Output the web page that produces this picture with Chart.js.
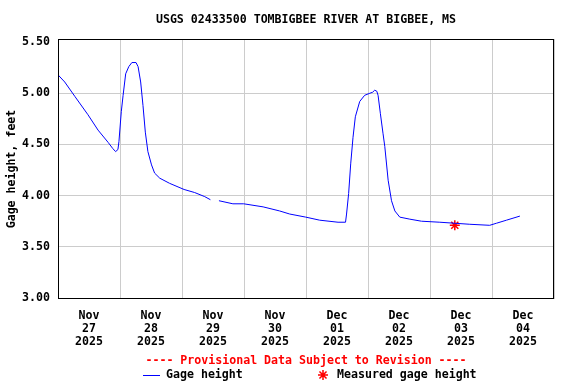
<!DOCTYPE html>
<html>
<head>
<meta charset="utf-8">
<script src="https://cdn.jsdelivr.net/npm/chart.js@4"></script>
<style>
html,body{margin:0;padding:0;background:#ffffff;}
canvas{display:block;}
</style>
</head>
<body>
<canvas id="c" width="576" height="384"></canvas>
<script>
// ---- data (hours since 2025-11-27 00:00 local) ----
const titleText = 'USGS 02433500 TOMBIGBEE RIVER AT BIGBEE, MS';
const yAxisTitle = 'Gage height, feet';
const provisionalText = '---- Provisional Data Subject to Revision ----';
const seriesName = 'Gage height';
const measuredName = 'Measured gage height';

const tickMonths = ['Nov','Nov','Nov','Nov','Dec','Dec','Dec','Dec'];
const tickDays   = ['27','28','29','30','01','02','03','04'];
const tickYears  = ['2025','2025','2025','2025','2025','2025','2025','2025'];

const hours = [0, 2.6, 6.5, 11.6, 15.5, 19.4, 21.2, 22.3, 23.2, 23.6,
  24.5, 25.2, 26.2, 27.4, 28.6, 30.2, 31.0, 32.0, 32.9, 33.8,
  34.8, 36.2, 37.4, 39.4, 43.2, 48.8, 52.9, 56.8, 59.0, 60.5,
  62.3, 67.7, 71.9, 79.4, 85.8, 89.7, 95.9, 101.3, 108.4, 111.3,
  111.7, 112.5, 113.3, 114.2, 115.1, 116.8, 118.7, 120.7, 121.8, 122.6,
  123.4, 123.9, 124.8, 125.8, 126.5, 127.8, 129.1, 130.4, 132.3, 136.2,
  140.7, 147.8, 159.4, 167.1, 169.7, 173.6, 178.8];
const gage = [5.18, 5.11, 4.97, 4.79, 4.64, 4.52, 4.46, 4.43, 4.45, 4.53,
  4.82, 4.98, 5.19, 5.26, 5.30, 5.30, 5.26, 5.11, 4.88, 4.62,
  4.43, 4.30, 4.22, 4.17, 4.12, 4.06, 4.03, 3.99, 3.96, null,
  3.95, 3.92, 3.92, 3.89, 3.85, 3.82, 3.79, 3.76, 3.74, 3.74,
  3.82, 4.02, 4.31, 4.57, 4.77, 4.92, 4.98, 5.00, 5.01, 5.03,
  5.02, 4.98, 4.80, 4.61, 4.48, 4.15, 3.95, 3.85, 3.79, 3.77,
  3.75, 3.74, 3.72, 3.71, 3.73, 3.76, 3.80];

const measHours = [153.6];
const measValues = [3.71];

const yTicks = [3.0, 3.5, 4.0, 4.5, 5.0, 5.5];
const yMin = 2.99;
const yMax = 5.53;

// ---- chart ----
const FAMILY = '"DejaVu Sans Mono", "Liberation Mono", monospace';
const FSIZE = 11.6;
const lineColor = '#0000ff';
const measColor = '#ff0000';

Chart.defaults.font.family = FAMILY;
Chart.defaults.color = '#000000';

const decorPlugin = {
  id: 'decor',
  afterDatasetsDraw(chart) {
    const a = chart.chartArea;
    const c = chart.ctx;
    c.save();
    c.strokeStyle = '#000000';
    c.lineWidth = 1;
    const l = Math.round(a.left) + 0.5, r = Math.round(a.right) - 0.5;
    const t = Math.round(a.top) + 0.5, b = Math.round(a.bottom) - 0.5;
    c.strokeRect(l, t, r - l, b - t);
    c.restore();
  },
  afterDraw(chart) {
    const a = chart.chartArea;
    const c = chart.ctx;
    const cx = (a.left + a.right) / 2;
    c.save();
    c.font = 'bold ' + FSIZE + 'px ' + FAMILY;
    c.textBaseline = 'middle';
    // provisional note
    c.fillStyle = measColor;
    c.textAlign = 'center';
    c.fillText(provisionalText, cx, 361);
    // legend
    const ly = 375;
    c.textAlign = 'left';
    c.strokeStyle = lineColor;
    c.lineWidth = 1;
    c.beginPath();
    c.moveTo(143, ly + 0.5);
    c.lineTo(160, ly + 0.5);
    c.stroke();
    c.fillStyle = '#000000';
    c.fillText(seriesName, 166, ly);
    c.strokeStyle = measColor;
    c.fillStyle = measColor;
    c.lineWidth = 1.5;
    Chart.helpers.drawPoint(c, {pointStyle: 'star', radius: 5, borderWidth: 1.5, rotation: 0}, 323, ly);
    c.fillStyle = '#000000';
    c.fillText(measuredName, 337, ly);
    c.restore();
  }
};

const ctx = document.getElementById('c').getContext('2d');
new Chart(ctx, {
  type: 'line',
  data: {
    datasets: [
      {
        label: seriesName,
        data: hours.map((h, i) => ({x: h, y: gage[i]})),
        borderColor: lineColor,
        backgroundColor: lineColor,
        borderWidth: 1,
        pointRadius: 0,
        tension: 0,
        spanGaps: false,
        fill: false
      },
      {
        label: measuredName,
        type: 'scatter',
        data: measHours.map((h, i) => ({x: h, y: measValues[i]})),
        pointStyle: 'star',
        pointRadius: 5,
        borderColor: measColor,
        backgroundColor: measColor,
        borderWidth: 1.5,
        showLine: false
      }
    ]
  },
  options: {
    responsive: false,
    animation: false,
    devicePixelRatio: 1,
    layout: {padding: {left: 0, right: 22, top: 0, bottom: 0}},
    plugins: {
      legend: {display: false},
      tooltip: {enabled: false},
      title: {
        display: true,
        text: titleText,
        fullSize: false,
        color: '#000000',
        font: {family: FAMILY, size: FSIZE, weight: 'bold', lineHeight: 1.2},
        padding: {top: 13, bottom: 12.08}
      }
    },
    scales: {
      x: {
        type: 'linear',
        min: 0,
        max: 192,
        border: {display: false},
        grid: {
          color: (c) => (c.tick && c.tick.value % 24 === 0) ? '#cccccc' : 'rgba(0,0,0,0)',
          lineWidth: 1,
          drawTicks: false
        },
        ticks: {
          stepSize: 12,
          autoSkip: false,
          maxRotation: 0,
          minRotation: 0,
          padding: 10,
          color: '#000000',
          font: {family: FAMILY, size: FSIZE, weight: 'bold', lineHeight: 1.14},
          callback: (v) => {
            if (v % 24 === 12) {
              const i = (v - 12) / 24;
              return [tickMonths[i], tickDays[i], tickYears[i]];
            }
            return '';
          }
        },
        afterFit: (s) => { s.height = 85; }
      },
      y: {
        type: 'linear',
        min: yMin,
        max: yMax,
        border: {display: false},
        grid: {
          color: (c) => (c.tick && (c.tick.value === 3 || c.tick.value === 5.5)) ? 'rgba(0,0,0,0)' : '#cccccc',
          lineWidth: 1,
          drawTicks: false
        },
        afterBuildTicks: (s) => { s.ticks = yTicks.map(v => ({value: v})); },
        ticks: {
          padding: 8,
          color: '#000000',
          font: {family: FAMILY, size: FSIZE, weight: 'bold'},
          callback: (v) => Number(v).toFixed(2)
        },
        title: {
          display: true,
          text: yAxisTitle,
          color: '#000000',
          font: {family: FAMILY, size: FSIZE, weight: 'bold', lineHeight: 1.2},
          padding: {top: 5, bottom: 0}
        },
        afterFit: (s) => { s.width = 58; }
      }
    }
  },
  plugins: [decorPlugin]
});
</script>
</body>
</html>
